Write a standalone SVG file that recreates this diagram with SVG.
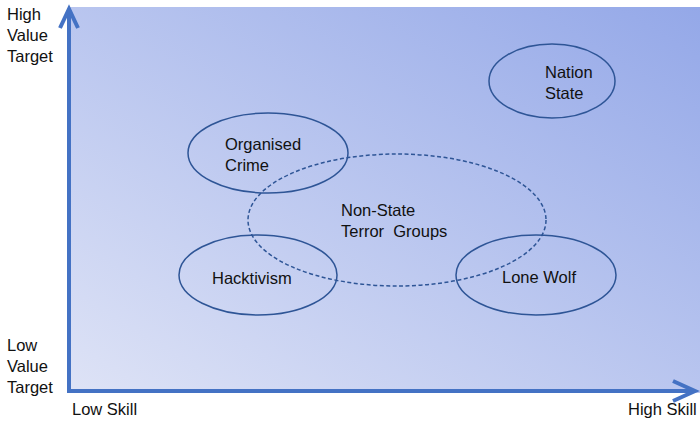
<svg xmlns="http://www.w3.org/2000/svg" width="700" height="425" viewBox="0 0 700 425">
<defs>
<linearGradient id="bg" x1="0" y1="1" x2="1" y2="0">
<stop offset="0" stop-color="#dee3f6"/>
<stop offset="1" stop-color="#94a8e8"/>
</linearGradient>
<style>
text{font-family:"Liberation Sans",Arial,sans-serif;font-size:16.5px;fill:#111;white-space:pre}
.n{fill:none;stroke:#2e5596;stroke-width:1.5}
.d{stroke-dasharray:4 2.5}
.ax{fill:none;stroke:#4472c4;stroke-width:4}
</style>
</defs>
<rect x="69" y="7" width="631" height="386" fill="url(#bg)"/>
<g id="axes">
<path class="ax" d="M69,393 V9 M60,28 L69,9 L78,28"/>
<path class="ax" d="M67,391 H695 M673,381 L695,391 L673,401"/>
</g>
<g id="axis-labels">
<text x="7" y="20">High</text>
<text x="7" y="41">Value</text>
<text x="7" y="62">Target</text>
<text x="7" y="351">Low</text>
<text x="7" y="372">Value</text>
<text x="7" y="393">Target</text>
<text x="72" y="415">Low Skill</text>
<text x="628" y="415">High Skill</text>
</g>
<g id="nonstate">
<ellipse class="n d" cx="397" cy="220" rx="149" ry="66"/>
<text x="341" y="216">Non-State</text>
<text x="341" y="237">Terror  Groups</text>
</g>
<g id="organised">
<ellipse class="n" cx="268" cy="153" rx="80" ry="40"/>
<text x="225" y="150">Organised</text>
<text x="225" y="171">Crime</text>
</g>
<g id="nation">
<ellipse class="n" cx="552" cy="81" rx="63" ry="37"/>
<text x="545" y="78">Nation</text>
<text x="545" y="99">State</text>
</g>
<g id="hacktivism">
<ellipse class="n" cx="258" cy="275" rx="79" ry="40"/>
<text x="212" y="284">Hacktivism</text>
</g>
<g id="lonewolf">
<ellipse class="n" cx="536" cy="275" rx="80" ry="40"/>
<text x="502" y="283">Lone Wolf</text>
</g>
</svg>
